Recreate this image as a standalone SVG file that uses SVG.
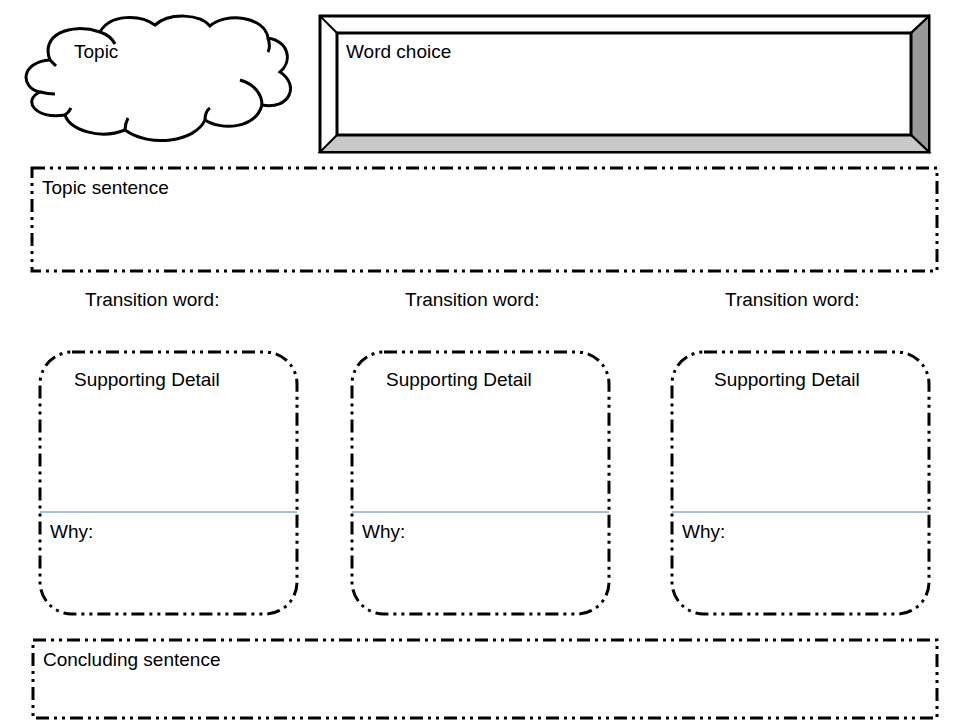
<svg xmlns="http://www.w3.org/2000/svg" width="960" height="720" viewBox="0 0 960 720">
<style>
text{font-family:"Liberation Sans",Arial,sans-serif;font-size:19px;fill:#000}
.dd{fill:none;stroke:#000;stroke-width:3;stroke-dasharray:13 5 3 5 3 5}
.sep{stroke:#4a7ebb;stroke-width:1}
</style>
<rect width="960" height="720" fill="#fff"/>
<g id="topic">
<path d="M50,60 C40,35 70,22 100,32 C110,14 140,14 155,25 C170,12 200,14 210,26 C225,12 265,16 268,38 C290,42 292,62 280,72 C300,85 290,110 262,105 C255,130 220,130 205,120 C195,142 150,148 125,130 C100,140 70,130 65,115 C35,120 22,100 40,92 C20,88 20,62 50,60 Z" fill="#fff" stroke="#000" stroke-width="3"/>
<path d="M100,32 C106,34 112,38 115,44 M240,80 C255,84 262,95 262,105 M205,120 C205,115 207,110 210,108 M125,130 C125,126 126,122 128,118 M65,115 C68,113 70,110 71,108 M40,92 C44,93 50,94 55,94 M50,60 C52,62 54,64 56,66 M268,38 C270,44 270,48 268,52" fill="none" stroke="#000" stroke-width="3"/>
<text x="74" y="58">Topic</text>
</g>
<g id="word-choice">
<rect x="320" y="16" width="609" height="136" fill="#fff" stroke="#000" stroke-width="3"/>
<polygon points="911,33 929,16 929,152 911,135" fill="#999" stroke="#000" stroke-width="2"/>
<polygon points="337,135 911,135 929,152 320,152" fill="#c8c8c8" stroke="#000" stroke-width="2"/>
<line x1="320" y1="16" x2="337" y2="33" stroke="#000" stroke-width="2"/>
<line x1="929" y1="16" x2="911" y2="33" stroke="#000" stroke-width="2"/>
<rect x="337" y="33" width="574" height="102" fill="#fff" stroke="#000" stroke-width="3"/>
<text x="346" y="58">Word choice</text>
</g>
<g id="topic-sentence">
<rect x="32" y="168" width="905" height="103" class="dd"/>
<text x="42" y="194">Topic sentence</text>
</g>
<g id="transitions">
<text x="85" y="306">Transition word:</text>
<text x="405" y="306">Transition word:</text>
<text x="725" y="306">Transition word:</text>
</g>
<g id="detail1">
<rect x="40" y="352" width="257" height="262" rx="32" class="dd"/>
<text x="74" y="386">Supporting Detail</text>
<line x1="40" y1="512" x2="297" y2="512" class="sep"/>
<text x="50" y="538">Why:</text>
</g>
<g id="detail2">
<rect x="352" y="352" width="257" height="262" rx="32" class="dd"/>
<text x="386" y="386">Supporting Detail</text>
<line x1="352" y1="512" x2="609" y2="512" class="sep"/>
<text x="362" y="538">Why:</text>
</g>
<g id="detail3">
<rect x="672" y="352" width="257" height="262" rx="32" class="dd"/>
<text x="714" y="386">Supporting Detail</text>
<line x1="672" y1="512" x2="929" y2="512" class="sep"/>
<text x="682" y="538">Why:</text>
</g>
<g id="concluding">
<rect x="33" y="640" width="904" height="78" class="dd"/>
<text x="43" y="666">Concluding sentence</text>
</g>
</svg>
